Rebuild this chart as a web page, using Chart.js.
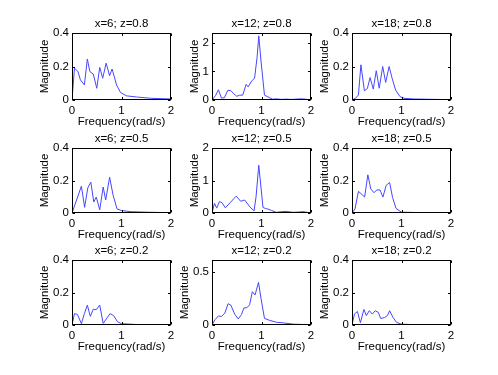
<!DOCTYPE html>
<html>
<head>
<meta charset="utf-8">
<script src="https://cdn.jsdelivr.net/npm/chart.js@4/dist/chart.umd.min.js"></script>
<style>
  html, body { margin: 0; padding: 0; background: #fff; }
  #fig { position: relative; width: 498px; height: 375px; background: #fff; overflow: hidden; }
  #fig canvas { position: absolute; }
</style>
</head>
<body>
<div id="fig"></div>
<script>
// ---- data ----
const titles = [
    'x=6; z=0.8', 'x=12; z=0.8', 'x=18; z=0.8',
    'x=6; z=0.5', 'x=12; z=0.5', 'x=18; z=0.5',
    'x=6; z=0.2', 'x=12; z=0.2', 'x=18; z=0.2',
];
const xLabel = 'Frequency(rad/s)';
const yLabel = 'Magnitude';

// y axis upper limits and tick steps per panel
const yMax  = [0.4, 2.35, 0.4, 0.4, 2, 0.4, 0.4, 0.61, 0.4];
const yStep = [0.2, 1, 0.2, 0.2, 1, 0.2, 0.2, 0.5, 0.2];

// x=6; z=0.8
const f1 = [0, 0.05, 0.12, 0.17, 0.25, 0.31, 0.36, 0.43, 0.5, 0.56, 0.62, 0.69, 0.76, 0.81, 0.9, 0.98, 1.1, 1.3, 1.6, 2.0];
const m1 = [0, 0.19, 0.17, 0.12, 0.09, 0.245, 0.17, 0.155, 0.07, 0.195, 0.13, 0.22, 0.145, 0.185, 0.09, 0.045, 0.025, 0.018, 0.01, 0.006];
// x=12; z=0.8
const f2 = [0, 0.07, 0.13, 0.19, 0.25, 0.32, 0.38, 0.44, 0.5, 0.56, 0.62, 0.69, 0.73, 0.8, 0.86, 0.91, 0.945, 0.99, 1.06, 1.13, 1.22, 1.3, 1.4, 1.5, 1.6, 1.7, 1.8, 1.88, 2.0];
const m2 = [0, 0.15, 0.36, 0.07, 0.08, 0.34, 0.33, 0.22, 0.13, 0.17, 0.17, 0.55, 0.46, 0.66, 0.77, 1.48, 2.25, 1.37, 0.17, 0.11, 0.03, 0.04, 0.02, 0.03, 0.02, 0.03, 0.04, 0.03, 0.0];
// x=18; z=0.8
const f3 = [0, 0.07, 0.13, 0.18, 0.25, 0.31, 0.365, 0.43, 0.49, 0.55, 0.62, 0.68, 0.75, 0.81, 0.88, 0.97, 1.05, 1.25, 1.6, 2.0];
const m3 = [0, 0.01, 0.03, 0.21, 0.055, 0.068, 0.134, 0.065, 0.175, 0.07, 0.2, 0.105, 0.2, 0.13, 0.06, 0.02, 0.01, 0.006, 0.004, 0.002];
// x=6; z=0.5
const f4 = [0, 0.19, 0.255, 0.32, 0.38, 0.44, 0.49, 0.56, 0.63, 0.68, 0.76, 0.83, 0.91, 1.0, 1.2, 1.5, 2.0];
const m4 = [0, 0.165, 0.035, 0.155, 0.19, 0.068, 0.098, 0.02, 0.16, 0.08, 0.22, 0.11, 0.025, 0.015, 0.008, 0.005, 0.002];
// x=12; z=0.5
const f5 = [0, 0.05, 0.095, 0.15, 0.2, 0.27, 0.38, 0.49, 0.58, 0.66, 0.77, 0.85, 0.89, 0.945, 1.03, 1.08, 1.13, 1.2, 1.3, 1.4, 1.5, 1.64, 1.75, 1.84, 2.0];
const m5 = [0, 0.3, 0.15, 0.35, 0.32, 0.16, 0.34, 0.52, 0.36, 0.4, 0.18, 0.065, 0.5, 1.47, 0.17, 0.14, 0.12, 0.08, 0.02, 0.04, 0.05, 0.02, 0.03, 0.04, 0.0];
// x=18; z=0.5
const f6 = [0, 0.06, 0.13, 0.18, 0.255, 0.32, 0.38, 0.445, 0.5, 0.565, 0.625, 0.69, 0.76, 0.82, 0.89, 1.0, 1.3, 2.0];
const m6 = [0, 0.025, 0.133, 0.12, 0.098, 0.235, 0.148, 0.125, 0.142, 0.142, 0.098, 0.17, 0.188, 0.095, 0.028, 0.005, 0.003, 0.002];
// x=6; z=0.2
const f7 = [0, 0.05, 0.11, 0.19, 0.25, 0.31, 0.37, 0.43, 0.49, 0.56, 0.63, 0.71, 0.77, 0.84, 0.92, 1.0, 1.3, 2.0];
const m7 = [0, 0.07, 0.065, 0.008, 0.07, 0.122, 0.053, 0.097, 0.094, 0.123, 0.01, 0.045, 0.07, 0.058, 0.02, 0.008, 0.003, 0.001];
// x=12; z=0.2
const f8 = [0, 0.06, 0.13, 0.19, 0.26, 0.325, 0.38, 0.46, 0.53, 0.595, 0.645, 0.705, 0.76, 0.815, 0.87, 0.94, 0.99, 1.06, 1.16, 1.3, 1.44, 1.64, 2.0];
const m8 = [0, 0.05, 0.085, 0.08, 0.112, 0.2, 0.187, 0.1, 0.057, 0.097, 0.16, 0.162, 0.19, 0.312, 0.282, 0.4, 0.25, 0.062, 0.044, 0.026, 0.02, 0.008, 0.002];
// x=18; z=0.2
const f9 = [0, 0.05, 0.11, 0.17, 0.24, 0.29, 0.35, 0.41, 0.47, 0.53, 0.58, 0.66, 0.72, 0.76, 0.83, 0.9, 1.0, 1.3, 2.0];
const m9 = [0, 0.068, 0.083, 0.014, 0.096, 0.058, 0.088, 0.067, 0.088, 0.078, 0.04, 0.046, 0.06, 0.088, 0.046, 0.016, 0.005, 0.002, 0.001];

const freqs = [f1, f2, f3, f4, f5, f6, f7, f8, f9];
const mags  = [m1, m2, m3, m4, m5, m6, m7, m8, m9];

// ---- layout (pixel boxes of each axes) ----
const colLeft = [72, 212, 352];
const boxW = 99;
const rowTop = [33, 148, 260];
const rowBottom = [100, 213, 325];
const PAD_L = 60, PAD_T = 30, PAD_R = 12, PAD_B = 32;
const FONT_FAMILY = '"Liberation Sans", Arial, Helvetica, sans-serif';
const FONT_SIZE = 11.5;
const TICK = 2.5;

// box, inward ticks, title and axis labels (MATLAB-like)
const matlabAxes = {
    id: 'matlabAxes',
    afterDraw(chart, args, opts) {
        const { ctx, chartArea: a, scales } = chart;
        const L = Math.round(a.left) + 0.5, R = Math.round(a.right) - 0.5;
        const T = Math.round(a.top) + 0.5, B = Math.round(a.bottom) - 0.5;
        ctx.save();
        ctx.strokeStyle = '#000';
        ctx.lineWidth = 1;
        ctx.strokeRect(L, T, R - L, B - T);
        ctx.beginPath();
        scales.x.ticks.forEach(t => {
            const px = Math.round(scales.x.getPixelForValue(t.value)) + 0.5;
            ctx.moveTo(px, B); ctx.lineTo(px, B - TICK);
            ctx.moveTo(px, T); ctx.lineTo(px, T + TICK);
        });
        scales.y.ticks.forEach(t => {
            const py = Math.round(scales.y.getPixelForValue(t.value)) + 0.5;
            ctx.moveTo(L, py); ctx.lineTo(L + TICK, py);
            ctx.moveTo(R, py); ctx.lineTo(R - TICK, py);
        });
        ctx.stroke();

        ctx.fillStyle = '#000';
        ctx.font = `${FONT_SIZE}px ${FONT_FAMILY}`;
        ctx.textAlign = 'center';
        ctx.textBaseline = 'middle';
        const cx = (a.left + a.right) / 2;
        ctx.fillText(opts.title, cx, a.top - 9);
        ctx.fillText(xLabel, cx, a.bottom + 22);
        ctx.translate(a.left - opts.yGap, (a.top + a.bottom) / 2);
        ctx.rotate(-Math.PI / 2);
        ctx.fillText(yLabel, 0, 0);
        ctx.restore();
    },
};

function fmt(v) {
    return String(Number(v.toFixed(2)));
}

function createPanel(i) {
    const r = Math.floor(i / 3), c = i % 3;
    const boxH = rowBottom[r] - rowTop[r];
    const canvas = document.createElement('canvas');
    const w = boxW + PAD_L + PAD_R;
    const h = boxH + PAD_T + PAD_B;
    canvas.width = w;
    canvas.height = h;
    canvas.style.width = w + 'px';
    canvas.style.height = h + 'px';
    canvas.style.left = (colLeft[c] - PAD_L) + 'px';
    canvas.style.top = (rowTop[r] - PAD_T) + 'px';
    document.getElementById('fig').appendChild(canvas);

    const points = freqs[i].map((x, k) => ({ x, y: mags[i][k] }));
    // longer tick labels (0.x) push the y label further out
    const yGap = yStep[i] < 1 ? 27 : 17;

    new Chart(canvas.getContext('2d'), {
        type: 'line',
        data: {
            datasets: [{
                data: points,
                borderColor: '#4646ff',
                borderWidth: 1,
                pointRadius: 0,
                tension: 0,
                fill: false,
            }],
        },
        options: {
            responsive: false,
            animation: false,
            devicePixelRatio: 1,
            events: [],
            layout: { padding: { left: 0, top: PAD_T, right: PAD_R, bottom: 0 } },
            plugins: {
                legend: { display: false },
                tooltip: { enabled: false },
                title: { display: false },
                matlabAxes: { title: titles[i], yGap },
            },
            scales: {
                x: {
                    type: 'linear',
                    min: 0,
                    max: 2,
                    grid: { display: false, drawTicks: false },
                    border: { display: false },
                    ticks: {
                        stepSize: 1,
                        padding: 4,
                        color: '#000',
                        maxRotation: 0,
                        font: { family: FONT_FAMILY, size: FONT_SIZE },
                        callback: fmt,
                    },
                    afterFit(scale) { scale.height = PAD_B; },
                },
                y: {
                    type: 'linear',
                    min: 0,
                    max: yMax[i],
                    grid: { display: false, drawTicks: false },
                    border: { display: false },
                    ticks: {
                        stepSize: yStep[i],
                        includeBounds: false,
                        padding: 3,
                        color: '#000',
                        font: { family: FONT_FAMILY, size: FONT_SIZE },
                        callback: fmt,
                    },
                    afterFit(scale) { scale.width = PAD_L; },
                },
            },
        },
        plugins: [matlabAxes],
    });
}

for (let i = 0; i < 9; i++) createPanel(i);
</script>
</body>
</html>
